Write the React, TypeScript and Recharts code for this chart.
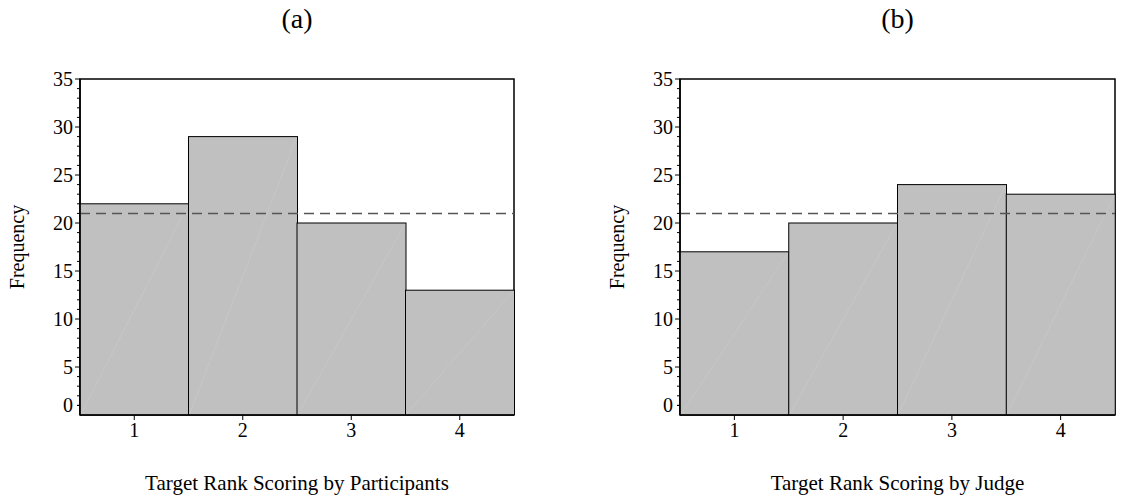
import React from 'react';
import { BarChart, Bar, XAxis, YAxis, ReferenceLine, ReferenceArea } from 'recharts';

const ranks = ['1', '2', '3', '4'];
const participantsFreq = [22, 29, 20, 13];
const judgeFreq = [17, 20, 24, 23];
const expectedFreq = 21;
const yTicks = [0, 1, 2, 3, 4, 5, 6, 7, 8, 9, 10, 11, 12, 13, 14, 15, 16, 17, 18, 19, 20, 21, 22, 23, 24, 25, 26, 27, 28, 29, 30, 31, 32, 33, 34, 35];
const yLabelEvery = 5;
const panelTitles = ['(a)', '(b)'];
const xTitles = ['Target Rank Scoring by Participants', 'Target Rank Scoring by Judge'];
const yTitle = 'Frequency';

const FONT = '"Liberation Serif", "Times New Roman", serif';

const dataA = ranks.map((r, i) => ({ rank: r, freq: participantsFreq[i] }));
const dataB = ranks.map((r, i) => ({ rank: r, freq: judgeFreq[i] }));

const YTick = (props: any) => {
  const { x, y, payload } = props;
  const v = payload.value;
  const major = v % yLabelEvery === 0;
  const len = major ? 5 : 3;
  const labelY = v === 0 ? y - 9.6 : y;
  return (
    <g>
      {v !== 0 && <line x1={x - len} x2={x} y1={y} y2={y} stroke="#000" strokeWidth={1} />}
      {v === 0 && <line x1={x - 3} x2={x} y1={labelY} y2={labelY} stroke="#000" strokeWidth={1} />}
      {major && (
        <text x={x - 7} y={labelY} dy="0.35em" textAnchor="end" fontFamily={FONT} fontSize={20} fill="#000">
          {v}
        </text>
      )}
    </g>
  );
};

const BarShape = (props: any) => {
  const { x, y, width, height } = props;
  return (
    <g>
      <rect x={x} y={y} width={width} height={height} fill="#c0c0c0" stroke="#000" strokeWidth={1} />
      <line x1={x + 1} y1={y + height - 1} x2={x + width - 1} y2={y + 1} stroke="#cdcdcd" strokeWidth={0.5} />
    </g>
  );
};

function Panel({ data, title, xTitle, yAxisWidth, yLabelX, width, rightMargin }: any) {
  return (
    <BarChart
      width={width}
      height={503}
      data={data}
      margin={{ top: 79, right: rightMargin, left: 0, bottom: 58 }}
      barCategoryGap={0}
      barGap={0}
    >
      <XAxis
        dataKey="rank"
        tickSize={5}
        tickMargin={3}
        axisLine={{ stroke: '#000', strokeWidth: 1.5 }}
        tickLine={{ stroke: '#000' }}
        tick={{ fontFamily: FONT, fontSize: 20, fill: '#000' }}
        height={30}
        label={{
          content: (p: any) => {
            const vb = p.viewBox;
            const cx = vb.x + vb.width / 2;
            return (
              <g>
                <text x={cx} y={vb.y + 68} dy="0.35em" textAnchor="middle" fontFamily={FONT} fontSize={21} fill="#000">
                  {xTitle}
                </text>
                <text x={cx} y={18} dy="0.35em" textAnchor="middle" fontFamily={FONT} fontSize={28} fill="#000">
                  {title}
                </text>
              </g>
            );
          },
        }}
      />
      <YAxis
        domain={[0, 35]}
        ticks={yTicks}
        interval={0}
        type="number"
        allowDataOverflow
        width={yAxisWidth}
        tickSize={0}
        tickMargin={0}
        tickLine={false}
        axisLine={{ stroke: '#000', strokeWidth: 1.5 }}
        tick={<YTick />}
        label={{
          content: () => (
            <text
              x={yLabelX}
              y={247}
              dy="0.35em"
              textAnchor="middle"
              transform={`rotate(-90, ${yLabelX}, 247)`}
              fontFamily={FONT}
              fontSize={20}
              fill="#000"
            >
              {yTitle}
            </text>
          ),
        }}
      />
      <Bar dataKey="freq" isAnimationActive={false} shape={<BarShape />} />
      <ReferenceLine y={expectedFreq} stroke="#555" strokeWidth={1.5} strokeDasharray="10 6" />
      <ReferenceArea y1={0} y2={35} fill="none" fillOpacity={0} stroke="#000" strokeWidth={1.5} ifOverflow="visible" />
    </BarChart>
  );
}

export default function App() {
  return (
    <div style={{ position: 'absolute', left: 0, top: 0, width: 1121, height: 503, background: '#fff' }}>
      <div style={{ position: 'absolute', left: 0, top: 0 }}>
        <Panel data={dataA} title={panelTitles[0]} xTitle={xTitles[0]} yAxisWidth={80} yLabelX={17} width={560} rightMargin={46} />
      </div>
      <div style={{ position: 'absolute', left: 560, top: 0 }}>
        <Panel data={dataB} title={panelTitles[1]} xTitle={xTitles[1]} yAxisWidth={120} yLabelX={57} width={561} rightMargin={6} />
      </div>
    </div>
  );
}
